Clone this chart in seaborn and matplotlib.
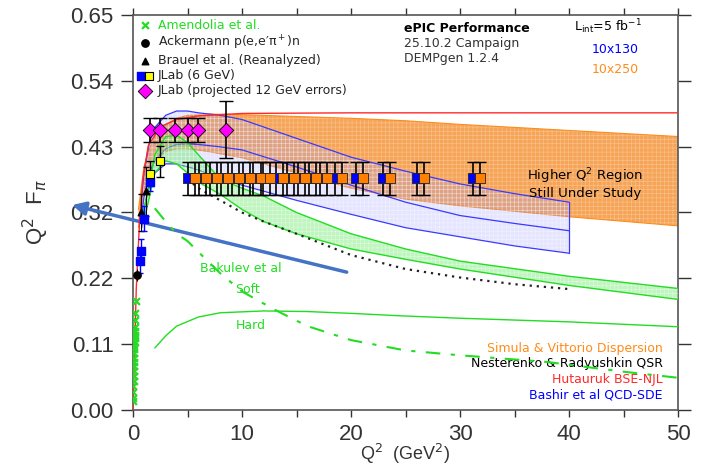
import numpy as np
import matplotlib
matplotlib.use("Agg")
import matplotlib.pyplot as plt
import seaborn as sns
from matplotlib.legend_handler import HandlerTuple

# ---- data ----
amendolia_q2 = [0.015, 0.02, 0.03, 0.04, 0.05, 0.06, 0.07, 0.08, 0.09, 0.10, 0.11,
                0.12, 0.13, 0.14, 0.15, 0.16, 0.17, 0.18, 0.20, 0.22, 0.25]
amendolia_f = [0.015, 0.02, 0.03, 0.04, 0.048, 0.056, 0.064, 0.072, 0.079, 0.086, 0.093,
               0.10, 0.106, 0.112, 0.118, 0.124, 0.13, 0.136, 0.148, 0.16, 0.18]

ackermann_q2 = [0.35]
ackermann_f = [0.222]
ackermann_err = [0.01]

brauel_q2 = [0.70, 1.18]
brauel_f = [0.325, 0.36]
brauel_err = [0.03, 0.04]

jlab6_blue_q2 = [0.60, 0.75, 1.00, 1.60]
jlab6_blue_f = [0.245, 0.262, 0.315, 0.375]
jlab6_blue_err = [0.02, 0.02, 0.02, 0.015]

jlab6_yel_q2 = [1.60, 2.45]
jlab6_yel_f = [0.389, 0.409]
jlab6_yel_err = [0.02, 0.025]

jlab12_q2 = [1.6, 2.45, 3.85, 5.0, 6.0, 8.5]
jlab12_f = [0.461, 0.461, 0.461, 0.461, 0.461, 0.461]
jlab12_err = [0.02, 0.02, 0.02, 0.02, 0.02, 0.047]

epic_250_q2 = [5.7, 6.7, 7.7, 8.7, 9.7, 10.7, 11.7, 12.6, 13.8, 14.8, 15.8, 16.8,
               17.8, 19.2, 21.1, 23.6, 26.7, 31.8]
epic_130_q2 = [5.05, 6.05, 7.05, 8.05, 9.05, 10.05, 11.05, 11.95, 13.15, 14.15, 15.15,
               16.15, 17.15, 18.55, 20.45, 22.95, 26.05, 31.15]
epic_f = 0.381
epic_err = 0.027

# Hutauruk BSE-NJL (red)
red_q2 = [0.0, 0.3, 0.6, 0.9, 1.4, 2.5, 4, 6, 10, 20, 50]
red_f = [0.0, 0.2, 0.31, 0.38, 0.435, 0.466, 0.478, 0.484, 0.488, 0.489, 0.489]

# Simula & Vittorio dispersion (orange band)
orange_q2 = [0.5, 1, 1.5, 2, 3, 4, 5, 7, 10, 15, 20, 25, 30, 40, 50]
orange_hi = [0.33, 0.40, 0.43, 0.45, 0.47, 0.48, 0.485, 0.487, 0.486, 0.483, 0.48,
             0.476, 0.47, 0.46, 0.45]
orange_lo = [0.30, 0.36, 0.39, 0.41, 0.425, 0.43, 0.43, 0.425, 0.415, 0.39, 0.365,
             0.347, 0.336, 0.318, 0.303]

# Bashir et al QCD-SDE (blue band)
blue_q2 = [0.8, 1, 1.5, 2, 3, 4, 5, 6, 8, 10, 15, 20, 25, 30, 35, 40]
blue_hi = [0.35, 0.39, 0.44, 0.465, 0.485, 0.492, 0.492, 0.489, 0.485, 0.478, 0.447,
           0.416, 0.393, 0.372, 0.356, 0.342]
blue_mid = [0.32, 0.35, 0.39, 0.41, 0.43, 0.437, 0.438, 0.437, 0.433, 0.428, 0.40,
            0.37, 0.342, 0.32, 0.307, 0.295]
blue_lo = [0.30, 0.33, 0.37, 0.39, 0.405, 0.405, 0.40, 0.395, 0.38, 0.37, 0.345,
           0.322, 0.30, 0.285, 0.27, 0.258]

# Bakulev et al (green band, soft, hard)
green_q2 = [1, 1.5, 2, 3, 4, 5, 6, 8, 10, 12, 15, 20, 25, 30, 40, 50]
green_hi = [0.33, 0.37, 0.42, 0.45, 0.452, 0.44, 0.42, 0.38, 0.365, 0.352, 0.325,
            0.29, 0.265, 0.245, 0.22, 0.2]
green_lo = [0.31, 0.35, 0.39, 0.41, 0.405, 0.39, 0.375, 0.355, 0.33, 0.31, 0.29,
            0.265, 0.248, 0.232, 0.205, 0.182]
soft_q2 = [2, 3, 4, 5, 6, 8, 10, 13, 16, 20, 25, 30, 38, 45, 50]
soft_f = [0.332, 0.31, 0.29, 0.278, 0.26, 0.225, 0.195, 0.165, 0.138, 0.115, 0.098,
          0.09, 0.079, 0.063, 0.053]
hard_q2 = [2, 3, 4, 6, 8, 12, 16, 20, 24.5, 30, 40, 50]
hard_f = [0.102, 0.122, 0.138, 0.153, 0.160, 0.163, 0.162, 0.159, 0.155, 0.151, 0.145, 0.137]

# Nesterenko & Radyushkin QSR (black dotted)
qsr_q2 = [5, 6, 8, 10, 12, 15, 20, 25, 30, 35, 40]
qsr_f = [0.38, 0.365, 0.345, 0.325, 0.31, 0.29, 0.255, 0.232, 0.218, 0.207, 0.199]

ytick_vals = np.linspace(0, 0.65, 7)
ytick_labels = ["0.00", "0.11", "0.22", "0.32", "0.43", "0.54", "0.65"]

# ---- colours ----
GREEN = "#22dd22"
ORANGE = "#ff8c1a"
BLUE = "#3a3aff"
RED = "#ff2a2a"

sns.set_theme(style="ticks")
plt.rcParams["font.family"] = ["Liberation Sans", "DejaVu Sans"]
plt.rcParams["hatch.linewidth"] = 0.4

fig = plt.figure(figsize=(7.09, 4.66), dpi=100)
ax = fig.add_axes([0.1876, 0.1202, 0.7687, 0.8476])

# bands
ax.fill_between(orange_q2, orange_lo, orange_hi, facecolor="#f6a458", edgecolor="#f9c48e",
                hatch="++++", linewidth=0, zorder=1)
sns.lineplot(x=orange_q2, y=orange_hi, ax=ax, color=ORANGE, lw=0.8, sort=False, estimator=None, zorder=1.1)
sns.lineplot(x=orange_q2, y=orange_lo, ax=ax, color=ORANGE, lw=0.8, sort=False, estimator=None, zorder=1.1)

ax.fill_between(blue_q2, blue_lo, blue_hi, facecolor=(0.6, 0.6, 1.0, 0.25), edgecolor=(1, 1, 1, 0.5),
                hatch="++++", linewidth=0, zorder=2)
for yy in (blue_hi, blue_mid, blue_lo):
    sns.lineplot(x=blue_q2, y=yy, ax=ax, color=BLUE, lw=0.9, sort=False, estimator=None, zorder=2.1)
ax.plot([blue_q2[-1], blue_q2[-1]], [blue_lo[-1], blue_hi[-1]], color=BLUE, lw=0.9, zorder=2.1)

ax.fill_between(green_q2, green_lo, green_hi, facecolor=(0.45, 0.92, 0.45, 0.45), edgecolor=(1, 1, 1, 0.5),
                hatch="++++", linewidth=0, zorder=3)
sns.lineplot(x=green_q2, y=green_hi, ax=ax, color=GREEN, lw=1.0, sort=False, estimator=None, zorder=3.1)
sns.lineplot(x=green_q2, y=green_lo, ax=ax, color=GREEN, lw=1.0, sort=False, estimator=None, zorder=3.1)

sns.lineplot(x=red_q2, y=red_f, ax=ax, color=RED, lw=1.0, sort=False, estimator=None, zorder=3.2)
sns.lineplot(x=soft_q2, y=soft_f, ax=ax, color=GREEN, lw=1.5, sort=False, estimator=None,
             linestyle=(0, (7, 5, 2, 5)), zorder=3.2)
sns.lineplot(x=hard_q2, y=hard_f, ax=ax, color=GREEN, lw=1.0, sort=False, estimator=None, zorder=3.2)
sns.lineplot(x=qsr_q2, y=qsr_f, ax=ax, color="#222222", lw=1.6, sort=False, estimator=None,
             linestyle=(0, (1, 2.2)), zorder=3.2)

# data points
h_am = ax.scatter(amendolia_q2, amendolia_f, marker="x", s=24, color=GREEN, lw=1.6, zorder=5)
ax.errorbar(ackermann_q2, ackermann_f, yerr=ackermann_err, fmt="none", ecolor="black", lw=0.8, zorder=5)
h_ack = ax.scatter(ackermann_q2, ackermann_f, marker="o", s=28, color="black", zorder=6)
ax.errorbar(brauel_q2, brauel_f, yerr=brauel_err, fmt="none", ecolor="black", lw=0.8, capsize=2, zorder=5)
h_br = ax.scatter(brauel_q2, brauel_f, marker="^", s=22, color="black", zorder=6)
ax.errorbar(jlab6_blue_q2, jlab6_blue_f, yerr=jlab6_blue_err, fmt="none", ecolor="blue", lw=1.0, capsize=2, zorder=5)
h_jb = ax.scatter(jlab6_blue_q2, jlab6_blue_f, marker="s", s=30, color="blue", edgecolor="blue", zorder=6)
ax.errorbar(jlab6_yel_q2, jlab6_yel_f, yerr=jlab6_yel_err, fmt="none", ecolor="black", lw=1.0, capsize=3, zorder=5)
h_jy = ax.scatter(jlab6_yel_q2, jlab6_yel_f, marker="s", s=32, color="#ffff00", edgecolor="black", lw=0.8, zorder=6)

ax.errorbar(jlab12_q2, jlab12_f, yerr=jlab12_err, fmt="none", ecolor="black", lw=1.2, capsize=5, zorder=7)
h_j12 = ax.scatter(jlab12_q2, jlab12_f, marker="D", s=55, color="#ff00ff", edgecolor="black", lw=0.6, zorder=8)

ax.errorbar(epic_130_q2, [epic_f] * len(epic_130_q2), yerr=epic_err, fmt="none", ecolor="black",
            lw=1.2, capsize=4, zorder=7)
ax.errorbar(epic_250_q2, [epic_f] * len(epic_250_q2), yerr=epic_err, fmt="none", ecolor="black",
            lw=1.2, capsize=4, zorder=7)
ax.scatter(epic_130_q2, [epic_f] * len(epic_130_q2), marker="s", s=48, color="#0000ff",
           edgecolor="#222222", lw=0.6, zorder=8)
ax.scatter(epic_250_q2, [epic_f] * len(epic_250_q2), marker="s", s=48, color="#ff8000",
           edgecolor="#222222", lw=0.6, zorder=9)

# axes
ax.set_xlim(0, 50)
ax.set_ylim(0, 0.65)
ax.set_xticks([0, 10, 20, 30, 40, 50])
ax.set_xticks([5, 15, 25, 35, 45], minor=True)
ax.set_yticks(ytick_vals)
ax.set_yticklabels(ytick_labels)
ax.tick_params(axis="both", which="both", direction="out", top=True, right=True,
               colors="#333333", labelsize=16, width=1.0)
ax.tick_params(axis="y", length=9, pad=5)
ax.tick_params(axis="x", which="both", length=5, pad=5)
for s in ax.spines.values():
    s.set_color("#555555")
    s.set_linewidth(1.2)
ax.set_xlabel("Q$^2$  (GeV$^2$)", fontsize=13, color="#333333", labelpad=-2)
ax.set_ylabel("Q$^2$  F$_\\pi$", fontsize=16, color="#333333", labelpad=14)

# legend
leg = ax.legend([h_am, h_ack, h_br, (h_jb, h_jy), h_j12],
                ["Amendolia et al.", "Ackermann p(e,e\u2032\u03c0$^+$)n", "Brauel et al. (Reanalyzed)",
                 "JLab (6 GeV)", "JLab (projected 12 GeV errors)"],
                handler_map={tuple: HandlerTuple(ndivide=None, pad=0.1)},
                loc="upper left", bbox_to_anchor=(-0.005, 1.01), frameon=False,
                prop={"family": "DejaVu Sans", "size": 9}, handlelength=1.2,
                handletextpad=0.4, labelspacing=0.16, borderaxespad=0.2)
leg.get_texts()[0].set_color(GREEN)

# annotations
tk = dict(family="DejaVu Sans", fontsize=9, transform=ax.transAxes)
ax.text(0.497, 0.958, "ePIC Performance", fontweight="bold", color="black", **tk)
ax.text(0.497, 0.92, "25.10.2 Campaign", color="#333333", **tk)
ax.text(0.497, 0.882, "DEMPgen 1.2.4", color="#333333", **tk)
ax.text(0.81, 0.958, "L$_{\\mathrm{int}}$=5 fb$^{-1}$", color="black", **tk)
ax.text(0.885, 0.903, "10x130", color="blue", ha="center", **tk)
ax.text(0.885, 0.852, "10x250", color=ORANGE, ha="center", **tk)
ax.text(0.83, 0.575, "Higher Q$^2$ Region\nStill Under Study", color="black", ha="center",
        va="center", linespacing=1.1, **{**tk, "fontsize": 9.5})
ax.text(0.123, 0.35, "Bakulev et al", color=GREEN, **tk)
ax.text(0.188, 0.297, "Soft", color=GREEN, **tk)
ax.text(0.188, 0.204, "Hard", color=GREEN, **tk)
ax.text(0.972, 0.148, "Simula & Vittorio Dispersion", color=ORANGE, ha="right", **tk)
ax.text(0.972, 0.109, "Nesterenko & Radyushkin QSR", color="black", ha="right", **tk)
ax.text(0.972, 0.069, "Hutauruk BSE-NJL", color=RED, ha="right", **tk)
ax.text(0.972, 0.029, "Bashir et al QCD-SDE", color="blue", ha="right", **tk)

# overlay arrow
ax.annotate("", xy=(0.1016, 0.560), xycoords="figure fraction", xytext=(0.489, 0.416),
            textcoords="figure fraction", annotation_clip=False,
            arrowprops=dict(arrowstyle="-|>", color="#4472C4", lw=2.5, mutation_scale=20,
                            shrinkA=0, shrinkB=0))

fig.savefig("out.png", dpi=100)
